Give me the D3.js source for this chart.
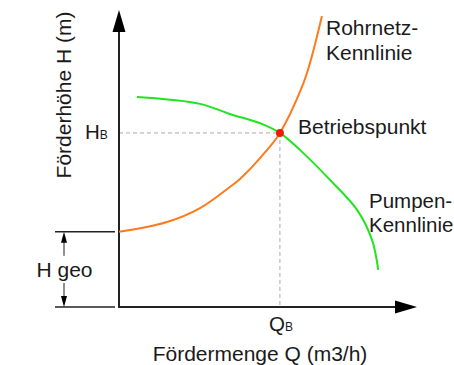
<!DOCTYPE html>
<html><head><meta charset="utf-8">
<script src="https://cdn.jsdelivr.net/npm/d3@7"></script>
<style>html,body{margin:0;padding:0;background:#fff}svg{display:block}text{font-family:"Liberation Sans",Arial,sans-serif;fill:#1a1a1a}</style>
</head><body><div id="chart"></div>
<script>
// Data (Q in % of axis, H in % of axis)
const rohrQ = [0, 16.1, 27.2, 37.2, 40.6, 49.7, 54.0, 61.4, 64.1, 68.1];
const rohrH = [25.3, 28.6, 33.3, 40.4, 43.1, 52.9, 58.6, 74.1, 82.2, 98.0];
const pumpQ = [6.0, 27.2, 37.2, 48.3, 54.0, 60.7, 70.8, 79.9, 84.9, 87.0];
const pumpH = [70.7, 68.4, 65.0, 61.5, 58.6, 52.9, 42.8, 32.7, 22.6, 12.5];
const betriebQ = 54.0, betriebH = 58.6;
const hGeo = 25.3;
const xTitle = "Fördermenge Q (m3/h)";
const yTitle = "Förderhöhe H (m)";
const curveLabels = [["Rohrnetz-", "Kennlinie"], ["Pumpen-", "Kennlinie"]];

const W = 454, H = 365;
const svg = d3.select("#chart").append("svg").attr("width", W).attr("height", H);
const x = d3.scaleLinear().domain([0, 100]).range([119, 417]);
const y = d3.scaleLinear().domain([0, 100]).range([307, 10]);
const axisCol = "#222";

// dashed guides
svg.append("line").attr("x1", x(0)).attr("x2", x(betriebQ)).attr("y1", y(betriebH)).attr("y2", y(betriebH))
  .attr("stroke", "#aaa").attr("stroke-width", 1).attr("stroke-dasharray", "4,3");
svg.append("line").attr("x1", x(betriebQ)).attr("x2", x(betriebQ)).attr("y1", y(betriebH)).attr("y2", y(0))
  .attr("stroke", "#aaa").attr("stroke-width", 1).attr("stroke-dasharray", "4,3");

// axes
svg.append("line").attr("x1", x(0)).attr("x2", x(0)).attr("y1", y(0) + 1).attr("y2", y(100) + 20)
  .attr("stroke", axisCol).attr("stroke-width", 2);
svg.append("line").attr("x1", x(0) - 1).attr("x2", x(100) - 20).attr("y1", y(0)).attr("y2", y(0))
  .attr("stroke", axisCol).attr("stroke-width", 2);
svg.append("path").attr("d", `M${x(0)},${y(100)} L${x(0) - 6.5},${y(100) + 22} L${x(0) + 6.5},${y(100) + 22} Z`).attr("fill", "#000");
svg.append("path").attr("d", `M${x(100)},${y(0)} L${x(100) - 22},${y(0) - 6.5} L${x(100) - 22},${y(0) + 6.5} Z`).attr("fill", "#000");

// H geo dimension
const gx = 64;
[hGeo, 0].forEach(v => svg.append("line").attr("x1", 55).attr("x2", 115).attr("y1", y(v)).attr("y2", y(v))
  .attr("stroke", axisCol).attr("stroke-width", 1.5));
svg.append("line").attr("x1", gx).attr("x2", gx).attr("y1", y(hGeo) + 8).attr("y2", y(hGeo) + 24).attr("stroke", axisCol).attr("stroke-width", 1);
svg.append("line").attr("x1", gx).attr("x2", gx).attr("y1", y(0) - 24).attr("y2", y(0) - 8).attr("stroke", axisCol).attr("stroke-width", 1);
svg.append("path").attr("d", `M${gx},${y(hGeo)} L${gx - 3},${y(hGeo) + 11} L${gx + 3},${y(hGeo) + 11} Z`).attr("fill", "#000");
svg.append("path").attr("d", `M${gx},${y(0)} L${gx - 3},${y(0) - 11} L${gx + 3},${y(0) - 11} Z`).attr("fill", "#000");
svg.append("text").attr("x", gx + 0.5).attr("y", 277).attr("text-anchor", "middle").attr("font-size", 21).text("H geo");

// curves
const line = d3.line().x(d => x(d[0])).y(d => y(d[1])).curve(d3.curveCatmullRom.alpha(0.5));
svg.append("path").attr("d", line(rohrQ.map((q, i) => [q, rohrH[i]])))
  .attr("fill", "none").attr("stroke", "#ff7a1c").attr("stroke-width", 2);
svg.append("path").attr("d", line(pumpQ.map((q, i) => [q, pumpH[i]])))
  .attr("fill", "none").attr("stroke", "#1ee61e").attr("stroke-width", 2);
svg.append("circle").attr("cx", x(betriebQ)).attr("cy", y(betriebH)).attr("r", 4).attr("fill", "#ee1c0c");

// labels H_B, Q_B
const hb = svg.append("text").attr("x", 85).attr("y", 139).attr("font-size", 20.5);
hb.append("tspan").text("H");
hb.append("tspan").attr("font-size", 12).text("B");
const qb = svg.append("text").attr("x", 281).attr("y", 331).attr("text-anchor", "middle").attr("font-size", 20.5);
qb.append("tspan").text("Q");
qb.append("tspan").attr("font-size", 12).text("B");

svg.append("text").attr("x", 298).attr("y", 134).attr("font-size", 21).text("Betriebspunkt");
const rl = svg.append("text").attr("x", 326).attr("y", 35).attr("font-size", 21);
rl.append("tspan").attr("x", 326).text(curveLabels[0][0]);
rl.append("tspan").attr("x", 326).attr("dy", 25).text(curveLabels[0][1]);
const pl = svg.append("text").attr("x", 369).attr("y", 208).attr("font-size", 20.5);
pl.append("tspan").attr("x", 369).text(curveLabels[1][0]);
pl.append("tspan").attr("x", 369).attr("dy", 24).text(curveLabels[1][1]);

// axis titles
svg.append("text").attr("x", 260).attr("y", 361).attr("text-anchor", "middle").attr("font-size", 21).text(xTitle);
svg.append("text").attr("transform", "translate(71,95) rotate(-90)").attr("text-anchor", "middle").attr("font-size", 21).text(yTitle);
</script></body></html>
